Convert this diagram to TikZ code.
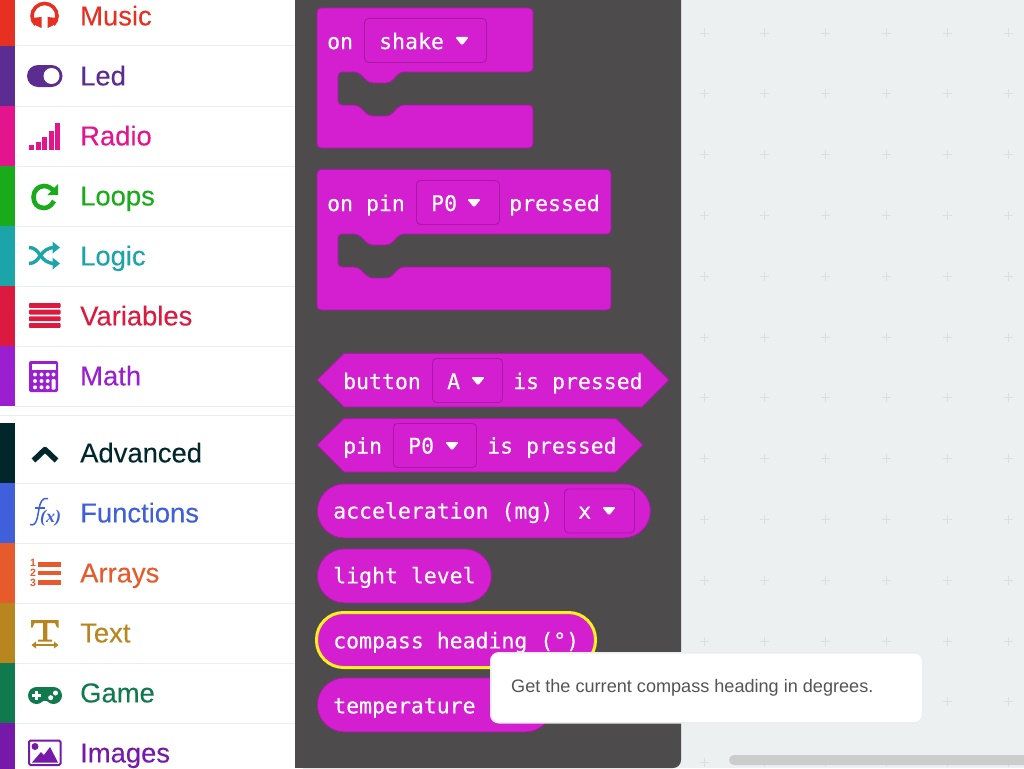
\documentclass[tikz,border=0pt]{standalone}
\usepackage{fontspec}
\setmainfont{Liberation Sans}
\newfontfamily\catfont[FakeBold=0.12]{Liberation Sans}
\newfontfamily\blockfont[FakeBold=0.22]{DejaVu Sans Mono}
\newfontfamily\iconfont{Liberation Serif}

\definecolor{catmusic}{HTML}{E63022}
\definecolor{catled}{HTML}{5C2D91}
\definecolor{catradio}{HTML}{E3148C}
\definecolor{catloops}{HTML}{1AAB1A}
\definecolor{catlogic}{HTML}{1BA5A8}
\definecolor{catvariables}{HTML}{DC1A40}
\definecolor{catmath}{HTML}{9A1FD0}
\definecolor{catadvanced}{HTML}{00272B}
\definecolor{catfunctions}{HTML}{3F5FDB}
\definecolor{catarrays}{HTML}{E65A2C}
\definecolor{cattext}{HTML}{B8861E}
\definecolor{catgame}{HTML}{107A4E}
\definecolor{catimages}{HTML}{7618A8}
\definecolor{blockfill}{HTML}{D31FD0}
\definecolor{blockedge}{HTML}{A81AA6}
\definecolor{flyoutfill}{HTML}{4D4B4C}
\definecolor{workspacefill}{HTML}{ECF0F1}
\definecolor{plusline}{HTML}{DADFE0}
\definecolor{rowline}{HTML}{EBEEEF}
\definecolor{hiliteline}{HTML}{FFF01F}

\begin{document}
\begin{tikzpicture}
  [
    x=1pt, y=-1pt,
    catlabel/.style={anchor=base west, inner sep=0, font=\catfont\fontsize{27.4}{30}\selectfont},
    blocktext/.style={anchor=base west, inner sep=0, text=white, font=\blockfont\fontsize{21.5}{24}\selectfont},
    blockshape/.style={fill=blockfill, draw=blockedge, line width=.8, rounded corners=4},
    dropbox/.style={draw=blockedge, line width=.9, rounded corners=4, anchor=north west, inner sep=0},
    pill/.style={fill=blockfill, draw=blockedge, line width=.8, rounded corners=27, anchor=north west, inner sep=0},
    caret/.style={fill=white, rounded corners=1.5},
  ]
  \useasboundingbox (0,0) rectangle (1024,768);
  \clip (0,0) rectangle (1024,768);

  % background
  \fill [workspacefill] (0,0) rectangle (1024,768);
  \foreach \i in {0,1,...,5} {
    \foreach \j in {0,1,...,12} {
      \draw [plusline, line width=.9] (704 + 60.9*\i - 4.5, 33 + 60.8*\j) -- ++(9,0);
      \draw [plusline, line width=.9] (704 + 60.9*\i, 33 + 60.8*\j - 4.5) -- ++(0,9);
    }
  }
  \fill [white] (0,0) rectangle (295,768);
  \fill [flyoutfill, rounded corners=8] (295,-20) -- (681,-20) -- (681,768) -- (295,768) -- cycle;
  \fill [flyoutfill] (295,740) rectangle (660,768);
  \fill [black!20, rounded corners=5] (729,755) rectangle (1040,765);

  % categories
  \foreach \nm/\top/\lab in {music/-14/Music,led/46/Led,radio/106/Radio,loops/166/Loops,
      logic/226/Logic,variables/286/Variables,math/346/Math,advanced/423/Advanced,
      functions/483/Functions,arrays/543/Arrays,text/603/Text,game/663/Game,images/723/Images} {
    \fill [cat\nm] (0,\top) rectangle (14.5,\top + 60);
    \draw [rowline, line width=1] (14.5,\top + 60) -- (295,\top + 60);
    \node (lab\nm) [catlabel, text=cat\nm] at (80,\top + 39.4) {\lab};
  }
  \draw [rowline, line width=1] (0,415) -- (295,415);

  % music icon
  \draw [catmusic, line width=3.6] (35.7,24.8) arc [start angle=135, end angle=405, radius=12.5];
  \fill [catmusic] (32,18) -- (41.5,17) -- (41.5,28) -- (36,25.5) -- cycle;
  \fill [catmusic] (57,18) -- (47.5,17) -- (47.5,28) -- (53,25.5) -- cycle;

  % led icon
  \fill [catled, rounded corners=11] (27,65) rectangle (62.5,87);
  \fill [white] (51.5,76) circle (8);

  % radio icon
  \foreach \xa/\ya in {29.3/145,35.8/142,42.3/137,48.8/131,55.3/123} {
    \fill [catradio] (\xa,\ya) rectangle (\xa + 4.8,150);
  }

  % loops icon
  \draw [catloops, line width=4.6] (54,201) .. controls (51,207) and (46,208) .. (44,208)
    .. controls (37,208) and (33.5,203) .. (33.5,197) .. controls (33.5,191) and (38,186) .. (44,186)
    .. controls (48,186) and (51,188) .. (54,191);
  \fill [catloops] (58,184) -- (58,195) -- (47.5,195) -- cycle;

  % logic icon
  \draw [catlogic, line width=3.4] (29,247.5) .. controls (41,247.5) and (39,263.5) .. (55,263.5);
  \draw [catlogic, line width=3.4] (29,263.5) .. controls (41,263.5) and (39,247.5) .. (55,247.5);
  \fill [catlogic] (52.5,241.5) -- (60,247.5) -- (52.5,253.5) -- cycle;
  \fill [catlogic] (52.5,257.5) -- (60,263.5) -- (52.5,269.5) -- cycle;

  % variables icon
  \foreach \ya in {303,309.7,316.4,323} {
    \fill [catvariables, rounded corners=.8] (29,\ya) rectangle (60.5,\ya + 4.8);
  }

  % math icon
  \fill [catmath, rounded corners=2] (29,361) rectangle (58,392);
  \fill [white] (31.5,363.5) rectangle (56,369.5);
  \foreach \xa in {35,41.5,47.7,53.5} {
    \fill [white] (\xa,374.5) circle (2);
  }
  \foreach \xa in {35,41.5,47.7} {
    \fill [white] (\xa,381) circle (2);
    \fill [white] (\xa,387.3) circle (2);
  }
  \fill [white, rounded corners=1] (51.5,379) rectangle (55.5,389.5);

  % advanced icon
  \draw [catadvanced, line width=5.5, line join=round] (33.5,460.5) -- (45,449.5) -- (56.5,460.5);

  % functions icon
  \draw [catfunctions, line width=1.5] (30,524.5) .. controls (37,527) and (37.5,516) .. (39,509)
    .. controls (40,503) and (42,497) .. (48,498.5);
  \draw [catfunctions, line width=1.2] (35,508) -- (45,508);
  \node (icnx) [inner sep=0, text=catfunctions, font=\iconfont\bfseries\itshape\fontsize{18}{18}\selectfont] at (50.5,518) {(x)};

  % arrays icon
  \foreach \n/\ya in {1/562.5,2/572.7,3/583} {
    \node (icn\n) [inner sep=0, text=catarrays, font=\bfseries\fontsize{10.5}{10.5}\selectfont] at (33,\ya) {\n};
  }
  \foreach \ya in {562,570.5,580} {
    \fill [catarrays] (38,\ya) rectangle (60.5,\ya + 4.5);
  }

  % text icon
  \fill [cattext] (31,620) -- (58.5,620) -- (58.5,627.5) -- (57,627.5) -- (55,623) -- (47.3,623) -- (47.3,639.5)
    -- (52,639.5) -- (52,641.5) -- (38,641.5) -- (38,639.5) -- (43,639.5) -- (43,623) -- (34.5,623)
    -- (32.5,627.5) -- (31,627.5) -- cycle;
  \draw [cattext, line width=1.5] (34,645) -- (56,645);
  \fill [cattext] (31.5,645) -- (36,641.5) -- (36,648.5) -- cycle;
  \fill [cattext] (58.5,645) -- (54,641.5) -- (54,648.5) -- cycle;

  % game icon
  \fill [catgame] (36.5,695.5) circle (8.5);
  \fill [catgame] (53.5,695.5) circle (8.5);
  \fill [catgame] (36.5,687) rectangle (53.5,701);
  \fill [white] (32,693.5) rectangle (41,697);
  \fill [white] (34.8,690.7) rectangle (38.2,699.7);
  \fill [white] (50.7,697.7) circle (2.5);
  \fill [white] (55.5,693) circle (2.5);

  % images icon
  \draw [catimages, line width=2, rounded corners=1.5] (29,740.5) rectangle (60.5,765);
  \fill [catimages] (35,746.5) circle (3.5);
  \fill [catimages] (32,762.5) -- (41,752) -- (44,755) -- (50,747) -- (58,762.5) -- cycle;

  % on shake
  \draw [blockshape] (317,8) -- (533,8) -- (533,72) -- (400,72) -- (390,83) -- (369,83) -- (358,72)
    -- (338,72) -- (338,105) -- (358,105) -- (369,116) -- (390,116) -- (400,105) -- (533,105)
    -- (533,148) -- (317,148) -- cycle;
  \node (shakedrop) [dropbox, minimum width=122, minimum height=44] at (364,18) {};
  \node (shakeon) [blocktext] at (327,49) {on};
  \node (shakeval) [blocktext] at (379,49) {shake};

  % on pin pressed
  \draw [blockshape] (317,169.5) -- (611,169.5) -- (611,234) -- (400,234) -- (390,245) -- (369,245)
    -- (358,234) -- (338,234) -- (338,267) -- (358,267) -- (369,278) -- (390,278) -- (400,267)
    -- (611,267) -- (611,310) -- (317,310) -- cycle;
  \node (pindrop) [dropbox, minimum width=83, minimum height=44] at (416,180) {};
  \node (pinon) [blocktext] at (327,211) {on pin};
  \node (pinval) [blocktext] at (431,211) {P0};
  \node (pinpress) [blocktext] at (509,211) {pressed};

  % button is pressed
  \draw [fill=blockfill, draw=blockedge, line width=.8] (317,380) -- (344,353.5) -- (642,353.5)
    -- (669,380) -- (642,407) -- (344,407) -- cycle;
  \node (btndrop) [dropbox, minimum width=70, minimum height=44] at (432,358) {};
  \node (btnlab) [blocktext] at (343,389) {button};
  \node (btnval) [blocktext] at (447,389) {A};
  \node (btnis) [blocktext] at (513,389) {is pressed};

  % pin is pressed
  \draw [fill=blockfill, draw=blockedge, line width=.8] (317,445) -- (344,418.5) -- (616,418.5)
    -- (643,445) -- (616,472) -- (344,472) -- cycle;
  \node (isdrop) [dropbox, minimum width=83, minimum height=44] at (393,423) {};
  \node (islab) [blocktext] at (343,453.5) {pin};
  \node (isval) [blocktext] at (408,453.5) {P0};
  \node (isis) [blocktext] at (487,453.5) {is pressed};

  % acceleration
  \node (accel) [pill, minimum width=333, minimum height=54] at (317,483.5) {};
  \node (acceldrop) [dropbox, minimum width=70, minimum height=44] at (564,488.5) {};
  \node (accellab) [blocktext] at (333,518.5) {acceleration (mg)};
  \node (accelval) [blocktext] at (578,518.5) {x};

  % light level
  \node (light) [pill, minimum width=174, minimum height=54] at (317,548.5) {};
  \node (lightlab) [blocktext] at (333,583.3) {light level};

  % compass heading
  \node (compass) [pill, draw=hiliteline, line width=3, minimum width=279, minimum height=55] at (315,611) {};
  \node (compasslab) [blocktext] at (333,648.3) {compass heading (°)};

  % temperature
  \node (temp) [pill, minimum width=235, minimum height=54] at (317,677.5) {};
  \node (templab) [blocktext] at (333,713.3) {temperature};

  % carets
  \foreach \xa/\ya in {462/41,474/203,478/381,452/446,609/511} {
    \fill [caret] (\xa - 7,\ya - 4) -- (\xa + 7,\ya - 4) -- (\xa,\ya + 4.5) -- cycle;
  }

  % tooltip
  \node (tip) [fill=white, draw=rowline, line width=1.5, rounded corners=8, anchor=north west, inner sep=0,
    minimum width=432, minimum height=70] at (490,652) {};
  \node (tiplab) [anchor=base west, inner sep=0, text=black!67, font=\fontsize{18.1}{20}\selectfont] at (511,692)
    {Get the current compass heading in degrees.};

\end{tikzpicture}
\end{document}
